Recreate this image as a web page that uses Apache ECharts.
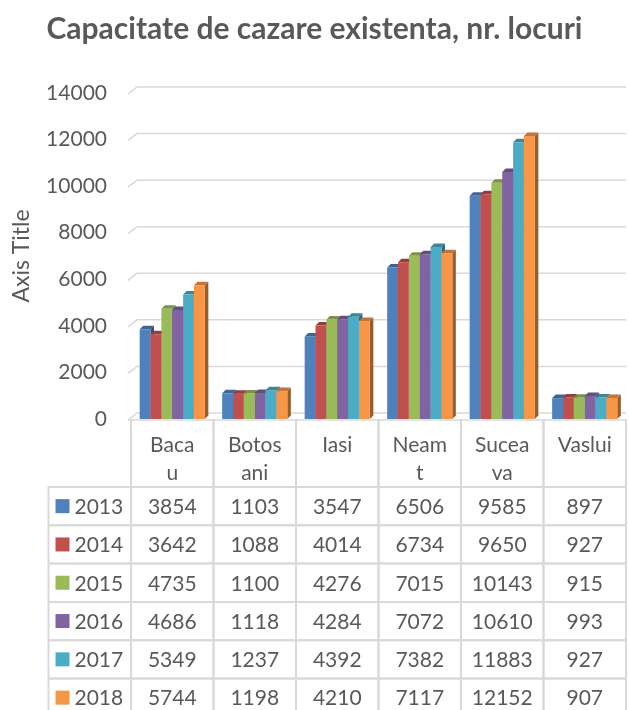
<!DOCTYPE html>
<html>
<head>
<meta charset="utf-8">
<script src="https://cdn.jsdelivr.net/npm/echarts@6/dist/echarts.min.js"></script>
<style>
  html, body { margin: 0; padding: 0; background: #ffffff; }
  #chart { width: 629px; height: 710px; }
</style>
</head>
<body>
<div id="chart"></div>
<script>
// Accommodation capacity (number of places) by county and year
const categories = ['Bacau', 'Botosani', 'Iasi', 'Neamt', 'Suceava', 'Vaslui'];
// character position where each name wraps inside its narrow table column (0 = no wrap)
const headerBreaks = [4, 5, 0, 4, 5, 0];
const years = ['2013', '2014', '2015', '2016', '2017', '2018'];
const v2013 = [3854, 1103, 3547, 6506, 9585, 897];
const v2014 = [3642, 1088, 4014, 6734, 9650, 927];
const v2015 = [4735, 1100, 4276, 7015, 10143, 915];
const v2016 = [4686, 1118, 4284, 7072, 10610, 993];
const v2017 = [5349, 1237, 4392, 7382, 11883, 927];
const v2018 = [5744, 1198, 4210, 7117, 12152, 907];
const yTicks = [0, 2000, 4000, 6000, 8000, 10000, 12000, 14000];

const seriesValues = [v2013, v2014, v2015, v2016, v2017, v2018];
const colors = ['#4F81BD', '#C0504D', '#9BBB59', '#8064A2', '#4BACC6', '#F79646'];

const FONT = 'Lato, "Open Sans", sans-serif';
const TEXT = '#595959';
const LINE = '#d9d9d9';
const DEPTH_X = 3.5, DEPTH_Y = 3.5;   // bar depth
const WALL_X = 9, WALL_Y = 7;         // wall gridline slant
const HEADER_H = 68, ROW_H = 38.3;    // data table geometry
const TABLE_FONT = 21;

function shade(hex, f) {
  const n = parseInt(hex.slice(1), 16);
  const r = Math.round(((n >> 16) & 255) * f);
  const g = Math.round(((n >> 8) & 255) * f);
  const b = Math.round((n & 255) * f);
  return 'rgb(' + r + ',' + g + ',' + b + ')';
}

function plotBounds(api) {
  const band = api.size([1, 0])[0];
  const left = api.coord([0, 0])[0] - band / 2;
  return { band: band, left: left, right: left + band * categories.length };
}

// back-wall gridlines with the small perspective slant at the left end
function renderGridLine(params, api) {
  const b = plotBounds(api);
  const y = api.coord([0, api.value(1)])[1] + 1;
  const children = [{
    type: 'polyline',
    shape: { points: [[b.left - 3, y], [b.left - 3 + WALL_X, y - WALL_Y], [b.right, y - WALL_Y]] },
    style: { stroke: LINE, lineWidth: 1.5, fill: null }
  }];
  if (api.value(1) === 0) {
    children.push({
      type: 'line',
      shape: { x1: b.left - 3, y1: y, x2: b.right, y2: y },
      style: { stroke: LINE, lineWidth: 1.5 }
    });
  }
  return { type: 'group', silent: true, children: children };
}

// 3D-looking column: front face, right side and top face
function makeBarRenderer(seriesIdx) {
  return function (params, api) {
    const band = api.size([1, 0])[0];
    const group = band * 0.79;
    const bw = group / years.length;
    const cat = api.value(0);
    const base = api.coord([cat, 0]);
    const top = api.coord([cat, api.value(1)]);
    const x = base[0] - group / 2 + seriesIdx * bw;
    const yb = base[1], yt = top[1];
    const c = colors[seriesIdx];
    return {
      type: 'group',
      children: [
        { type: 'polygon',
          shape: { points: [[x + bw, yt], [x + bw + DEPTH_X, yt - DEPTH_Y], [x + bw + DEPTH_X, yb - DEPTH_Y], [x + bw, yb]] },
          style: { fill: shade(c, 0.62) } },
        { type: 'polygon',
          shape: { points: [[x, yt], [x + DEPTH_X, yt - DEPTH_Y], [x + bw + DEPTH_X, yt - DEPTH_Y], [x + bw, yt]] },
          style: { fill: shade(c, 0.78) } },
        { type: 'rect',
          shape: { x: x, y: yt, width: bw, height: yb - yt },
          style: { fill: c } }
      ]
    };
  };
}

function cellText(text, x, y, align) {
  return {
    type: 'text',
    style: { text: text, x: x, y: y, align: align || 'center', verticalAlign: 'middle',
             fontSize: TABLE_FONT, fontFamily: FONT, fill: TEXT }
  };
}

// data table below the axis: one item per (category, year)
function renderTable(params, api) {
  const b = plotBounds(api);
  const c = api.value(0), r = api.value(2);
  const p = api.coord([c, 0]);
  const y0 = p[1];
  const rowTop = y0 + HEADER_H + r * ROW_H;
  const lineStyle = { stroke: LINE, lineWidth: 2, fill: null };
  const children = [
    { type: 'rect', shape: { x: p[0] - b.band / 2, y: rowTop, width: b.band, height: ROW_H }, style: lineStyle },
    cellText(String(api.value(1)), p[0], rowTop + ROW_H / 2 + 1)
  ];
  if (r === 0) {
    children.push({ type: 'line', shape: { x1: p[0] - b.band / 2, y1: y0, x2: p[0] - b.band / 2, y2: rowTop }, style: lineStyle });
    children.push({ type: 'line', shape: { x1: p[0] + b.band / 2, y1: y0, x2: p[0] + b.band / 2, y2: rowTop }, style: lineStyle });
  }
  if (c === 0) {
    const hx = b.left - b.band;
    children.push({ type: 'rect', shape: { x: hx, y: rowTop, width: b.band, height: ROW_H }, style: lineStyle });
    children.push({ type: 'rect', shape: { x: hx + 7, y: rowTop + ROW_H / 2 - 7, width: 14, height: 14 },
                    style: { fill: colors[r] } });
    children.push(cellText(years[r], hx + 26, rowTop + ROW_H / 2 + 1, 'left'));
  }
  return { type: 'group', silent: true, children: children };
}

const tableData = [];
seriesValues.forEach(function (vals, r) {
  vals.forEach(function (v, c) { tableData.push([c, v, r]); });
});

const series = [{
  type: 'custom',
  name: 'grid',
  z: 1,
  renderItem: renderGridLine,
  encode: { x: 0, y: 1 },
  data: yTicks.map(function (t) { return [0, t]; })
}];
years.forEach(function (yr, i) {
  series.push({
    type: 'custom',
    name: yr,
    z: 2,
    renderItem: makeBarRenderer(i),
    encode: { x: 0, y: 1 },
    data: seriesValues[i].map(function (v, c) { return [c, v]; })
  });
});
series.push({
  type: 'custom',
  name: 'table',
  z: 3,
  clip: false,
  renderItem: renderTable,
  encode: { x: 0, y: 1 },
  data: tableData
});

const chart = echarts.init(document.getElementById('chart'), null, { renderer: 'canvas' });
chart.setOption({
  backgroundColor: '#ffffff',
  animation: false,
  title: {
    text: 'Capacitate de cazare existenta, nr. locuri',
    left: 'center',
    top: 9,
    textStyle: { fontSize: 30, fontWeight: 'bold', color: TEXT, fontFamily: FONT }
  },
  grid: { left: 131, right: 3, top: 93, bottom: 291, containLabel: false, outerBoundsMode: 'none' },
  xAxis: {
    type: 'category',
    data: categories,
    axisLine: { show: false },
    axisTick: { show: false },
    splitLine: { show: false },
    axisLabel: {
      interval: 0,
      margin: 12,
      fontSize: TABLE_FONT,
      lineHeight: 28,
      color: TEXT,
      fontFamily: FONT,
      formatter: function (name, idx) {
        const k = headerBreaks[idx];
        return k ? name.slice(0, k) + '\n' + name.slice(k) : name;
      }
    }
  },
  yAxis: {
    type: 'value',
    min: 0,
    max: 14000,
    interval: 2000,
    name: 'Axis Title',
    nameLocation: 'middle',
    nameRotate: 90,
    nameGap: 98,
    nameTextStyle: { fontSize: 23, color: TEXT, fontFamily: FONT },
    axisLine: { show: false },
    axisTick: { show: false },
    splitLine: { show: false },
    axisLabel: {
      margin: 24, fontSize: 21, color: TEXT, fontFamily: FONT,
      padding: [6, 0, 0, 0],
      formatter: function (v) { return String(v); }
    }
  },
  series: series
});
</script>
</body>
</html>
